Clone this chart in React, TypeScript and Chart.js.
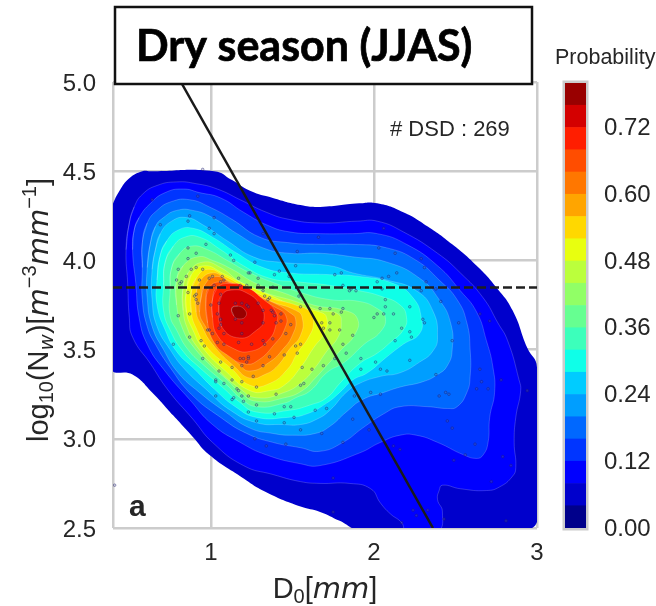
import React, { useEffect, useRef } from "react";
import { Chart, registerables } from "chart.js";

Chart.register(...registerables);

const bandColors = ["#00008b","#0000cc","#0000ff","#0035ff","#0068ff","#009eff","#00ccff","#0fffe8","#3cffbb","#66ff91","#91ff66","#bbff3c","#e8ff0f","#ffd800","#ffa500","#ff7700","#ff4d00","#ff1e00","#d40000","#990000"];
const bandEdges = [0,0.04,0.08,0.12,0.16,0.2,0.24,0.28,0.32,0.36,0.4,0.44,0.48,0.52,0.56,0.6,0.64,0.68,0.72,0.76,0.8];
const colorbarTicks = [0,0.12,0.24,0.36,0.48,0.6,0.72];
const xTicks = [0.4,1,2,3];
const yTicks = [2.5,3,3.5,4,4.5,5];

const level01 = [[.39,4.30],[.44,4.39],[.50,4.46],[.58,4.50],[.63,4.50],[1.02,4.50],[1.13,4.45],[1.24,4.39],[1.38,4.35],[1.55,4.31],[1.67,4.30],[1.91,4.32],[2.02,4.32],[2.18,4.27],[2.33,4.19],[2.48,4.09],[2.63,3.97],[2.75,3.85],[2.85,3.72],[2.94,3.51],[3.00,3.40],[3.01,2.60],[2.94,2.49],[2.4,2.48],[1.91,2.49],[1.79,2.54],[1.67,2.59],[1.55,2.62],[1.34,2.70],[1.18,2.79],[.99,2.91],[.89,3.01],[.77,3.13],[.64,3.26],[.52,3.36],[.39,3.40]];
const level02 = [[.50,4.21],[.53,4.30],[.58,4.37],[.67,4.42],[.79,4.44],[.91,4.43],[1.04,4.40],[1.18,4.34],[1.34,4.27],[1.48,4.23],[1.67,4.21],[1.90,4.22],[2.02,4.22],[2.18,4.16],[2.39,4.04],[2.53,3.93],[2.67,3.79],[2.76,3.65],[2.82,3.55],[2.89,3.33],[2.90,3.27],[2.87,3.12],[2.86,2.98],[2.87,2.84],[2.85,2.79],[2.77,2.73],[2.69,2.71],[2.53,2.72],[2.42,2.74],[2.40,2.71],[2.39,2.66],[2.42,2.59],[2.39,2.48],[2.20,2.48],[2.17,2.53],[2.10,2.58],[2.04,2.64],[1.98,2.72],[1.85,2.75],[1.67,2.75],[1.55,2.76],[1.38,2.80],[1.20,2.85],[1.01,2.98],[.89,3.11],[.74,3.27],[.63,3.42],[.52,3.57],[.50,3.68],[.49,3.87],[.48,4.06]];
const level03 = [[.53,4.17],[.56,4.24],[.63,4.32],[.72,4.38],[.83,4.40],[.93,4.38],[1.06,4.35],[1.20,4.27],[1.34,4.20],[1.48,4.16],[1.67,4.15],[1.87,4.15],[2.02,4.15],[2.20,4.09],[2.39,3.97],[2.53,3.83],[2.63,3.71],[2.69,3.55],[2.73,3.40],[2.74,3.26],[2.71,3.12],[2.70,2.98],[2.67,2.91],[2.63,2.89],[2.55,2.91],[2.39,2.98],[2.26,3.02],[2.16,3.02],[2.04,2.98],[1.91,2.92],[1.67,2.85],[1.55,2.86],[1.34,2.91],[1.18,2.98],[1.01,3.08],[.87,3.22],[.71,3.39],[.61,3.53],[.56,3.68],[.54,3.87],[.52,4.06]];
const level04 = [[.58,4.10],[.61,4.21],[.67,4.28],[.76,4.33],[.87,4.34],[.99,4.30],[1.13,4.23],[1.30,4.13],[1.47,4.10],[1.67,4.09],[1.87,4.09],[2.08,4.07],[2.26,4.00],[2.40,3.89],[2.51,3.78],[2.57,3.65],[2.59,3.50],[2.59,3.35],[2.57,3.26],[2.51,3.18],[2.45,3.17],[2.33,3.18],[2.16,3.18],[2.06,3.14],[1.93,3.06],[1.81,2.98],[1.67,2.93],[1.55,2.95],[1.38,2.98],[1.22,3.03],[1.06,3.12],[.88,3.25],[.75,3.40],[.66,3.53],[.61,3.63],[.58,3.78],[.58,3.96]];
const level05 = [[.63,4.10],[.66,4.19],[.71,4.24],[.79,4.28],[.89,4.28],[1.01,4.24],[1.16,4.15],[1.32,4.07],[1.48,4.04],[1.67,4.04],[1.87,4.02],[2.08,3.99],[2.28,3.90],[2.40,3.78],[2.47,3.65],[2.48,3.50],[2.45,3.41],[2.39,3.36],[2.30,3.32],[2.16,3.29],[2.06,3.26],[1.93,3.22],[1.83,3.15],[1.73,3.07],[1.64,3.03],[1.50,3.02],[1.38,3.03],[1.24,3.06],[1.09,3.15],[.93,3.26],[.80,3.37],[.71,3.50],[.64,3.63],[.61,3.79],[.61,3.96]];
const level06 = [[.66,4.06],[.69,4.15],[.76,4.22],[.85,4.24],[.95,4.20],[1.10,4.11],[1.26,4.02],[1.42,3.99],[1.73,3.97],[1.87,3.93],[2.08,3.89],[2.26,3.83],[2.36,3.72],[2.39,3.57],[2.36,3.49],[2.28,3.43],[2.16,3.37],[2.04,3.35],[1.91,3.31],[1.83,3.26],[1.73,3.16],[1.65,3.11],[1.55,3.08],[1.44,3.08],[1.28,3.09],[1.12,3.16],[.98,3.27],[.84,3.39],[.75,3.50],[.67,3.63],[.64,3.78],[.64,3.95]];
const level07 = [[.69,4.03],[.73,4.11],[.80,4.17],[.89,4.18],[1.01,4.13],[1.16,4.04],[1.32,3.96],[1.48,3.93],[1.73,3.92],[1.91,3.91],[2.12,3.87],[2.24,3.79],[2.29,3.68],[2.28,3.59],[2.18,3.53],[2.08,3.46],[1.96,3.37],[1.87,3.33],[1.79,3.26],[1.71,3.20],[1.59,3.14],[1.47,3.12],[1.28,3.12],[1.15,3.18],[1.02,3.28],[.90,3.39],[.79,3.49],[.72,3.61],[.67,3.75],[.67,3.89]];
const level08 = [[.72,3.99],[.77,4.08],[.84,4.13],[.93,4.13],[1.06,4.06],[1.20,3.97],[1.36,3.90],[1.53,3.88],[1.73,3.86],[1.91,3.83],[2.04,3.80],[2.16,3.75],[2.20,3.68],[2.18,3.61],[2.10,3.54],[2.02,3.48],[1.91,3.42],[1.79,3.31],[1.71,3.23],[1.61,3.19],[1.48,3.16],[1.28,3.15],[1.17,3.21],[1.07,3.29],[.93,3.40],[.83,3.49],[.75,3.61],[.71,3.72],[.71,3.86]];
const level09 = [[.76,3.96],[.81,4.04],[.88,4.08],[.98,4.06],[1.10,4.00],[1.24,3.93],[1.40,3.87],[1.55,3.82],[1.73,3.78],[1.91,3.77],[2.02,3.73],[2.07,3.68],[2.04,3.60],[1.94,3.53],[1.82,3.43],[1.71,3.37],[1.61,3.27],[1.52,3.23],[1.45,3.20],[1.28,3.18],[1.18,3.23],[1.10,3.30],[.96,3.41],[.86,3.50],[.79,3.61],[.75,3.69],[.75,3.83]];
const level10 = [[.79,3.89],[.83,3.97],[.92,4.02],[1.01,4.00],[1.13,3.95],[1.28,3.87],[1.47,3.81],[1.63,3.75],[1.82,3.72],[1.90,3.67],[1.88,3.58],[1.80,3.50],[1.71,3.41],[1.64,3.34],[1.56,3.27],[1.45,3.23],[1.28,3.21],[1.18,3.26],[1.10,3.33],[1.00,3.41],[.89,3.52],[.83,3.61],[.79,3.75]];
const level11 = [[.83,3.85],[.86,3.93],[.95,3.99],[1.06,3.96],[1.18,3.88],[1.33,3.82],[1.52,3.77],[1.67,3.72],[1.78,3.70],[1.80,3.65],[1.78,3.57],[1.71,3.49],[1.64,3.40],[1.56,3.32],[1.45,3.26],[1.28,3.23],[1.18,3.28],[1.04,3.39],[.92,3.51],[.86,3.61],[.83,3.72]];
const level12 = [[.85,3.83],[.88,3.92],[.96,3.97],[1.07,3.93],[1.20,3.87],[1.35,3.81],[1.53,3.74],[1.67,3.71],[1.71,3.68],[1.70,3.60],[1.63,3.51],[1.55,3.40],[1.45,3.30],[1.36,3.27],[1.24,3.27],[1.09,3.38],[.95,3.51],[.89,3.61],[.85,3.71]];
const level13 = [[.88,3.82],[.91,3.90],[.98,3.95],[1.09,3.91],[1.21,3.85],[1.36,3.79],[1.52,3.75],[1.61,3.71],[1.63,3.65],[1.60,3.57],[1.53,3.48],[1.47,3.39],[1.36,3.31],[1.24,3.30],[1.13,3.39],[.98,3.51],[.91,3.62],[.88,3.71]];
const level14 = [[.91,3.81],[.93,3.88],[1.01,3.93],[1.10,3.89],[1.23,3.83],[1.37,3.77],[1.52,3.72],[1.56,3.68],[1.55,3.58],[1.48,3.50],[1.41,3.41],[1.33,3.36],[1.24,3.34],[1.15,3.40],[1.01,3.53],[.94,3.64],[.91,3.71]];
const level15 = [[.94,3.79],[.96,3.86],[1.03,3.91],[1.13,3.87],[1.25,3.81],[1.39,3.76],[1.48,3.71],[1.52,3.67],[1.50,3.58],[1.44,3.50],[1.36,3.43],[1.24,3.38],[1.17,3.42],[1.04,3.54],[.96,3.64],[.93,3.71]];
const level16 = [[.97,3.78],[.99,3.85],[1.06,3.88],[1.15,3.86],[1.28,3.79],[1.39,3.74],[1.46,3.69],[1.45,3.61],[1.39,3.53],[1.29,3.44],[1.21,3.42],[1.10,3.47],[1.02,3.54],[.98,3.65]];
const level17 = [[1.01,3.78],[1.04,3.85],[1.13,3.87],[1.22,3.85],[1.31,3.79],[1.40,3.71],[1.40,3.64],[1.35,3.55],[1.24,3.49],[1.13,3.51],[1.04,3.58],[1.01,3.68]];
const level18 = [[1.049,3.739],[1.067,3.627],[1.178,3.565],[1.282,3.610],[1.325,3.666],[1.301,3.750],[1.221,3.817],[1.129,3.834],[1.067,3.806]];
const level19 = [[1.129,3.733],[1.166,3.744],[1.209,3.722],[1.215,3.688],[1.178,3.672],[1.141,3.688]];
const contourLevels = [level01,level02,level03,level04,level05,level06,level07,level08,level09,level10,level11,level12,level13,level14,level15,level16,level17,level18,level19];

const dsdPoints = [[.95,4.51],[.64,4.34],[.92,4.36],[.69,4.20],[.87,4.25],[.86,4.22],[1.02,4.24],[.99,4.18],[1.02,4.15],[.86,4.07],[.97,4.09],[.86,4.01],[.91,4.04],[1.12,4.03],[1.14,4.00],[.80,3.95],[.88,3.95],[.91,3.96],[.95,3.95],[1.27,3.99],[1.23,3.93],[1.24,3.93],[.85,3.91],[.79,3.89],[.82,3.88],[.81,3.87],[.93,3.89],[.99,3.90],[1.01,3.91],[1.07,3.91],[1.08,3.89],[1.06,3.88],[1.17,3.90],[1.29,3.90],[1.02,3.86],[1.18,3.86],[1.22,3.86],[1.29,3.86],[1.38,3.85],[1.32,3.83],[.86,3.82],[.91,3.81],[.90,3.80],[.91,3.78],[.92,3.76],[1.06,3.81],[1.00,3.75],[1.05,3.76],[1.15,3.76],[1.19,3.76],[1.22,3.75],[1.23,3.74],[1.29,3.76],[1.33,3.80],[1.35,3.78],[1.36,3.79],[1.32,3.72],[1.37,3.72],[1.38,3.71],[1.39,3.69],[1.43,3.70],[1.04,3.70],[.87,3.70],[.80,3.69],[1.06,3.67],[1.15,3.67],[1.06,3.64],[1.19,3.65],[1.32,3.65],[1.40,3.65],[1.43,3.66],[1.49,3.64],[.98,3.61],[.99,3.61],[1.05,3.62],[1.01,3.59],[1.08,3.59],[1.46,3.59],[1.38,3.56],[.87,3.57],[.77,3.53],[.94,3.55],[.96,3.52],[1.04,3.54],[1.08,3.53],[1.17,3.54],[1.19,3.59],[1.25,3.53],[1.32,3.55],[1.33,3.53],[1.52,3.52],[1.55,3.53],[1.32,4.15],[1.66,4.13],[1.53,4.05],[1.52,3.97],[1.42,3.94],[1.39,3.92],[1.48,3.91],[1.54,3.80],[1.55,3.74],[1.67,3.73],[1.68,3.65],[1.73,3.65],[1.69,3.62],[1.73,3.61],
[.95,3.45],[1.06,3.43],[1.13,3.40],[1.05,3.38],[1.19,3.41],[1.18,3.45],[1.20,3.45],[1.23,3.46],[1.23,3.45],[1.22,3.43],[1.32,3.41],[1.36,3.46],[1.45,3.47],[1.53,3.48],[1.56,3.40],[1.62,3.39],[1.69,3.41],[1.26,3.35],[1.13,3.33],[1.19,3.32],[1.08,3.31],[1.03,3.32],[1.03,3.33],[1.28,3.29],[1.57,3.31],[1.55,3.30],[1.16,3.28],[1.17,3.27],[1.40,3.25],[1.19,3.24],[1.23,3.24],[1.20,3.21],[1.14,3.23],[1.13,3.22],[1.03,3.24],[1.28,3.19],[1.45,3.18],[1.49,3.18],[1.23,3.15],[1.39,3.14],[1.51,3.12],[1.64,3.16],[1.71,3.17],[1.28,3.10],[1.45,3.09],[1.55,3.05],[1.68,3.03],[1.27,3.00],[1.34,2.96],[1.46,2.97],[.41,2.74],
[2.06,4.18],[2.03,4.07],[2.13,4.04],[2.29,4.01],[2.31,3.96],[2.14,3.93],[1.76,3.92],[1.80,3.93],[2.02,3.88],[2.05,3.90],[2.09,3.91],[2.32,3.88],[1.81,3.86],[1.85,3.83],[1.86,3.84],[1.89,3.83],[2.05,3.84],[2.29,3.83],[2.38,3.84],[2.41,3.77],[2.07,3.78],[2.07,3.74],[2.22,3.74],[1.73,3.73],[1.81,3.73],[1.75,3.70],[1.80,3.71],[2.02,3.70],[2.00,3.68],[2.06,3.70],[2.12,3.70],[2.65,3.70],[2.71,3.66],[2.30,3.67],[2.31,3.65],[2.52,3.65],[1.79,3.61],[2.17,3.62],[2.22,3.60],[2.23,3.57],[1.87,3.58],[2.13,3.55],[1.81,3.53],[2.48,3.55],
[1.83,3.48],[1.76,3.45],[1.92,3.45],[2.01,3.43],[2.04,3.39],[2.08,3.38],[1.92,3.39],[2.22,3.44],[2.38,3.36],[2.65,3.39],[2.66,3.32],[2.63,3.28],[2.70,3.28],[2.78,3.33],[2.94,3.27],[2.40,3.24],[2.44,3.26],[2.46,3.25],[1.98,3.26],[2.04,3.25],[1.88,3.24],[1.87,3.11],[2.45,3.10],[2.48,3.06],[1.97,3.05],[1.81,2.98],[2.12,2.96],[2.16,2.94],[2.62,2.97],[2.56,2.91],[2.49,2.88],[2.79,2.90],[2.84,2.85],[2.72,2.76],[1.75,2.78],[1.75,2.59],[2.17,2.53],[2.24,2.60],[2.26,2.57],[2.33,2.60],[2.43,2.55],[2.81,2.54]];

const dashedLevel = [[0.4,3.848],[3,3.848]];
const fitLine = [[0.816,5],[2.362,2.5]];

const TICK = "#262626";
const SANS = "'Liberation Sans', Arial, sans-serif";
type Seg = { t: string; s: number; dy?: number; it?: boolean };
const xTitle: Seg[] = [{t:"D",s:29},{t:"0",s:20,dy:5},{t:"[",s:29},{t:"mm",s:29,it:true},{t:"]",s:29}];
const yTitle: Seg[] = [{t:"log",s:29},{t:"10",s:20,dy:5},{t:"(N",s:29},{t:"w",s:20,dy:5,it:true},{t:")[",s:29},{t:"m",s:29,it:true},{t:"−3",s:20,dy:-12},{t:"mm",s:29,it:true},{t:"−1",s:20,dy:-12},{t:"]",s:29}];

function drawSegs(ctx: CanvasRenderingContext2D, segs: Seg[], cx: number, cy: number, rot: number) {
  ctx.save();
  ctx.translate(cx, cy);
  ctx.rotate(rot);
  ctx.fillStyle = TICK;
  ctx.textBaseline = "alphabetic";
  ctx.textAlign = "left";
  const fontOf = (g: Seg) => g.it ? `italic ${g.s}px 'DejaVu Sans'` : `${g.s}px ${SANS}`;
  let w = 0;
  for (const g of segs) { ctx.font = fontOf(g); w += ctx.measureText(g.t).width; }
  let x = -w / 2;
  for (const g of segs) { ctx.font = fontOf(g); ctx.fillText(g.t, x, g.dy || 0); x += ctx.measureText(g.t).width; }
  ctx.restore();
}

const annotations = {
  id: "annotations",
  afterDraw(chart: any) {
    const { ctx } = chart;
    ctx.save();
    ctx.fillStyle = "#ffffff";
    ctx.strokeStyle = "#111111";
    ctx.lineWidth = 2.5;
    ctx.fillRect(115, 7, 417, 77);
    ctx.strokeRect(115, 7, 417, 77);
    ctx.fillStyle = "#000000";
    ctx.strokeStyle = "#000000";
    ctx.lineWidth = 0.7;
    ctx.textAlign = "left";
    ctx.textBaseline = "alphabetic";
    ctx.font = "bold 43px Lato";
    ctx.fillText("Dry season (JJAS)", 136, 61);
    ctx.strokeText("Dry season (JJAS)", 136, 61);
    ctx.fillStyle = TICK;
    ctx.font = `22px ${SANS}`;
    ctx.fillText("# DSD : 269", 390, 136);
    ctx.font = `bold 30px ${SANS}`;
    ctx.fillText("a", 129, 516);
    ctx.font = `21.5px ${SANS}`;
    ctx.fillText("Probability", 555, 64);
    ctx.restore();
    drawSegs(ctx, xTitle, 325, 598, 0);
    drawSegs(ctx, yTitle, 48, 310, -Math.PI / 2);
  },
};

const barFrame = {
  id: "barFrame",
  beforeDatasetsDraw(chart: any) {
    const { ctx, chartArea: a } = chart;
    ctx.save();
    ctx.strokeStyle = "#cccccc";
    ctx.lineWidth = 3;
    ctx.strokeRect(a.left - 1, a.top - 1, a.right - a.left + 2, a.bottom - a.top + 2);
    ctx.restore();
  },
};

export default function App() {
  const mainRef = useRef<HTMLCanvasElement>(null);
  const barRef = useRef<HTMLCanvasElement>(null);

  useEffect(() => {
    const contourSets = contourLevels.map((pts, i) => ({
      type: "line" as const,
      data: i === 0 ? [...pts, pts[0]] : [pts[pts.length - 1], ...pts, pts[0], pts[1]],
      fill: "shape",
      backgroundColor: bandColors[i + 1],
      borderColor: i === 0 ? "rgba(0,0,0,0)" : "rgba(255,255,255,0.28)",
      borderWidth: i === 0 ? 0 : 0.7,
      tension: 0.5,
      pointRadius: 0,
      order: 100 - i,
    }));
    const main = new Chart(mainRef.current!, {
      type: "scatter",
      data: {
        datasets: [
          ...contourSets,
          { type: "scatter", data: dsdPoints, pointRadius: 1.3, borderWidth: 0.7, borderColor: "rgba(25,25,110,0.6)", backgroundColor: "rgba(120,120,150,0.25)", order: 10 },
          { type: "line", data: dashedLevel, borderColor: "#1f1f1f", borderWidth: 2.5, borderDash: [9, 4], pointRadius: 0, fill: false, order: 2 },
          { type: "line", data: fitLine, borderColor: "#1a1a1a", borderWidth: 2.5, pointRadius: 0, fill: false, order: 1 },
        ] as any,
      },
      options: {
        responsive: false,
        animation: false,
        events: [],
        layout: { padding: { top: 82, right: 119, left: 0, bottom: 0 } },
        plugins: { legend: { display: false }, tooltip: { enabled: false } },
        scales: {
          x: {
            type: "linear", min: 0.4, max: 3,
            afterBuildTicks: (s: any) => { s.ticks = xTicks.map((value) => ({ value })); },
            afterFit: (s: any) => { s.height = 78; },
            ticks: { autoSkip: false, maxRotation: 0, padding: 11, color: TICK, font: { family: SANS, size: 24 }, callback: (v: any) => (v === 0.4 ? "" : String(v)) },
            grid: { color: "#cccccc", lineWidth: 2.5, drawTicks: false },
            border: { display: false },
          },
          y: {
            type: "linear", min: 2.5, max: 5,
            afterBuildTicks: (s: any) => { s.ticks = yTicks.map((value) => ({ value })); },
            afterFit: (s: any) => { s.width = 113; },
            ticks: { autoSkip: false, padding: 17, labelOffset: 2, color: TICK, font: { family: SANS, size: 24 }, callback: (v: any) => Number(v).toFixed(1) },
            grid: { color: "#cccccc", lineWidth: 2.5, drawTicks: false },
            border: { display: false },
          },
        },
      } as any,
      plugins: [annotations],
    });

    const bar = new Chart(barRef.current!, {
      type: "bar",
      data: {
        labels: ["p"],
        datasets: bandColors.map((c, i) => ({
          data: [[bandEdges[i], bandEdges[i + 1]]],
          backgroundColor: c,
          borderWidth: 0,
          barPercentage: 1,
          categoryPercentage: 1,
          grouped: false,
        })) as any,
      },
      options: {
        responsive: false,
        animation: false,
        events: [],
        layout: { padding: { top: 83, left: 565, right: 0, bottom: 78 } },
        plugins: { legend: { display: false }, tooltip: { enabled: false } },
        scales: {
          x: { display: false },
          y: {
            position: "right", min: 0, max: 0.8,
            afterBuildTicks: (s: any) => { s.ticks = colorbarTicks.map((value) => ({ value })); },
            afterFit: (s: any) => { s.width = 70; },
            ticks: { autoSkip: false, padding: 18, labelOffset: 1, color: TICK, font: { family: SANS, size: 24 }, callback: (v: any) => Number(v).toFixed(2) },
            grid: { display: false, drawTicks: false },
            border: { display: false },
          },
        },
      } as any,
      plugins: [barFrame],
    });

    return () => { main.destroy(); bar.destroy(); };
  }, []);

  const layer: React.CSSProperties = { position: "absolute", left: 0, top: 0, display: "block" };
  return (
    <div style={{ position: "fixed", left: 0, top: 0, width: 656, height: 606, background: "#fff", overflow: "hidden" }}>
      <canvas ref={mainRef} width={656} height={606} style={layer} />
      <canvas ref={barRef} width={656} height={606} style={layer} />
    </div>
  );
}
